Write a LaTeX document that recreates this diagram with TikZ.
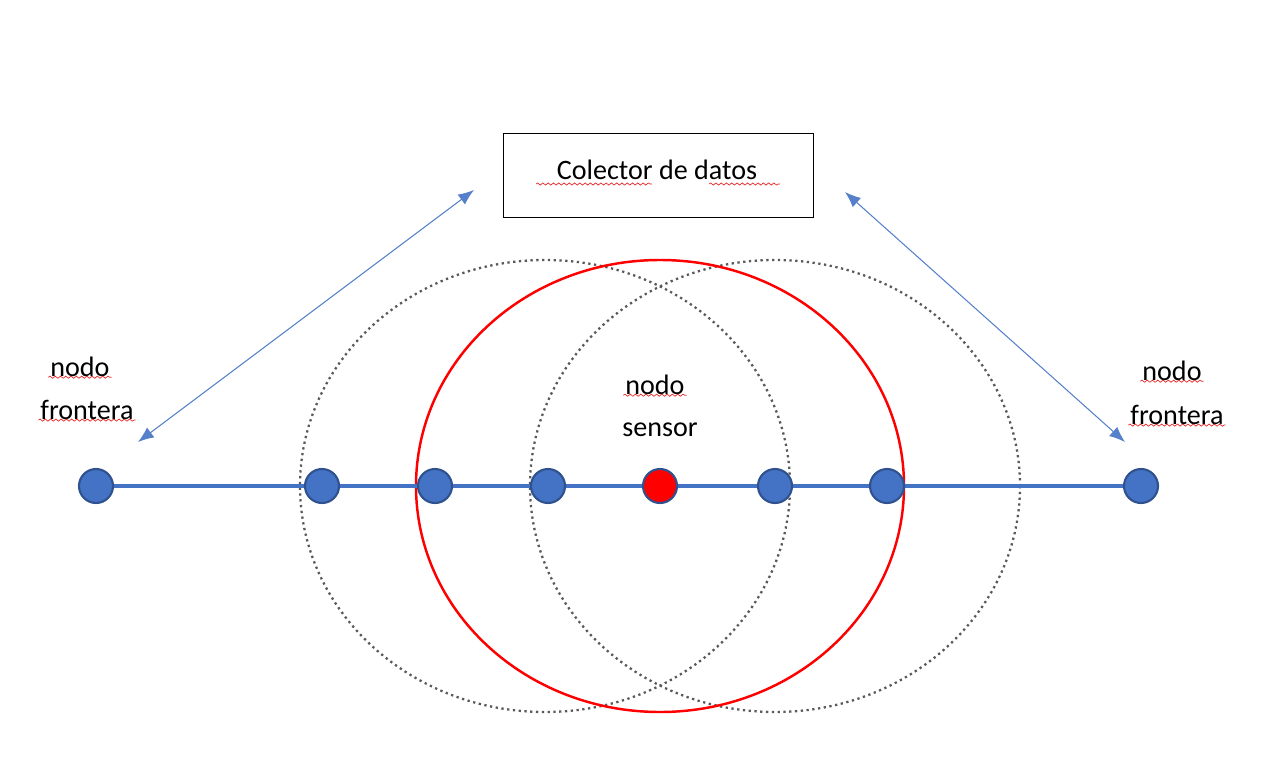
\documentclass[tikz,border=0pt]{standalone}
\usepackage{fontspec}
\setmainfont{Carlito}
\usetikzlibrary{decorations.pathmorphing,arrows.meta}

\begin{document}
\begin{tikzpicture}[x=0.02cm,y=-0.02cm]
	\definecolor{nodeblue}{RGB}{68,114,196}
	\definecolor{nodeedge}{RGB}{47,82,143}
	\definecolor{spellred}{RGB}{230,40,40}
	\tikzset{
		dot/.style={circle,fill=nodeblue,draw=nodeedge,line width=1.2pt,minimum size=0.68cm,inner sep=0pt},
		label/.style={font=\fontsize{16}{19}\selectfont,inner sep=1pt},
		wavy/.style={draw=spellred,line width=0.4pt,decorate,decoration={snake,amplitude=0.6pt,segment length=3pt}},
		link/.style={draw=nodeblue!90,line width=0.6pt,{Latex[length=9pt,width=7pt]}-{Latex[length=9pt,width=7pt]}}
	}
	\useasboundingbox (0,0) rectangle (1280,770);

	\draw (503,133) rectangle (813,217);
	\node[label] (colector) at (657,170) {Colector de datos};

	% coverage circles
	\draw[gray!70!black,line width=1.3pt,dotted] (545,486) ellipse [x radius=245,y radius=226];
	\draw[gray!70!black,line width=1.3pt,dotted] (775,486) ellipse [x radius=245,y radius=226];
	\draw[red,line width=1.4pt] (660,486) ellipse [x radius=244,y radius=226];

	% nodes on the line
	\foreach \x [count=\i] in {96,322,435,548,660,775,887,1141}
		\coordinate (p\i) at (\x,486);
	\draw[nodeblue,line width=2.5pt] (p1) -- (p8);
	\foreach \i in {1,2,3,4,6,7,8}
		\node[dot] (n\i) at (p\i) {};
	\node[dot,fill=red] (n5) at (p5) {};

	\node[label] (nodoL) at (80,367) {nodo};
	\node[label] (fronL) at (87,410) {frontera};
	\node[label] (nodoC) at (655,385) {nodo};
	\node[label] (sensor) at (660,430) {sensor};
	\node[label] (nodoR) at (1172,371) {nodo};
	\node[label] (fronR) at (1177,415) {frontera};

	\coordinate (aL1) at (138,442);
	\coordinate (aL2) at (474,190);
	\coordinate (aR1) at (845,192);
	\coordinate (aR2) at (1125,442);
	\draw[link] (aL1) -- (aL2);
	\draw[link] (aR1) -- (aR2);

	% spelling marks
	\foreach \n in {nodoL,fronL,nodoC,nodoR,fronR}
		\draw[wavy] ([yshift=1pt]\n.south west) -- ([yshift=1pt]\n.south east);
	\draw[wavy] (536,184) -- (652,184);
	\draw[wavy] (709,184) -- (780,184);
\end{tikzpicture}
\end{document}
